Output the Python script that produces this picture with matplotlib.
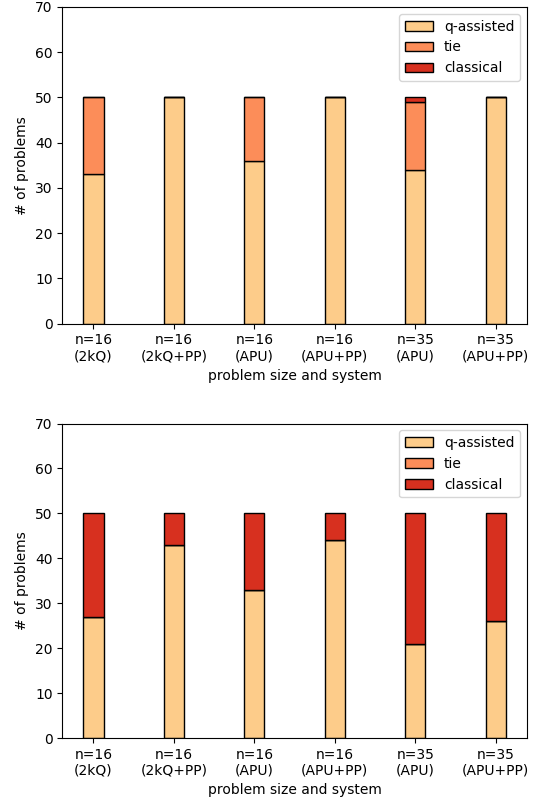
import numpy as np
import matplotlib
matplotlib.use("Agg")
import matplotlib.pyplot as plt

# problem size / system configurations on the x axis
labels = ["n=16\n(2kQ)", "n=16\n(2kQ+PP)", "n=16\n(APU)",
          "n=16\n(APU+PP)", "n=35\n(APU)", "n=35\n(APU+PP)"]

# top panel counts
top_qassisted = [33, 50, 36, 50, 34, 50]
top_tie = [17, 0, 14, 0, 15, 0]
top_classical = [0, 0, 0, 0, 1, 0]

# bottom panel counts
bot_qassisted = [27, 43, 33, 44, 21, 26]
bot_tie = [0, 0, 0, 0, 0, 0]
bot_classical = [23, 7, 17, 6, 29, 24]

COLORS = ["#fdcc8a", "#fc8d59", "#d7301f"]
NAMES = ["q-assisted", "tie", "classical"]
WIDTH = 0.25


def stacked(ax, series):
    x = np.arange(len(labels))
    bottom = np.zeros(len(labels))
    for vals, color, name in zip(series, COLORS, NAMES):
        vals = np.array(vals, dtype=float)
        ax.bar(x, vals, WIDTH, bottom=bottom, color=color,
               edgecolor="black", linewidth=1, label=name)
        bottom += vals
    ax.set_xticks(x)
    ax.set_xticklabels(labels)
    ax.set_ylim(0, 70)
    ax.set_ylabel("# of problems")
    ax.set_xlabel("problem size and system")
    ax.legend(loc="upper right")


W, H = 544, 806
fig = plt.figure(figsize=(W / 100, H / 100), dpi=100)
ax_top = fig.add_axes([62.3 / W, 1 - 323.5 / H, 464.5 / W, 316.5 / H])
ax_bot = fig.add_axes([62.3 / W, 1 - 738 / H, 464.5 / W, 314.5 / H])
stacked(ax_top, [top_qassisted, top_tie, top_classical])
stacked(ax_bot, [bot_qassisted, bot_tie, bot_classical])

fig.savefig("out.png", dpi=100, facecolor="white")
